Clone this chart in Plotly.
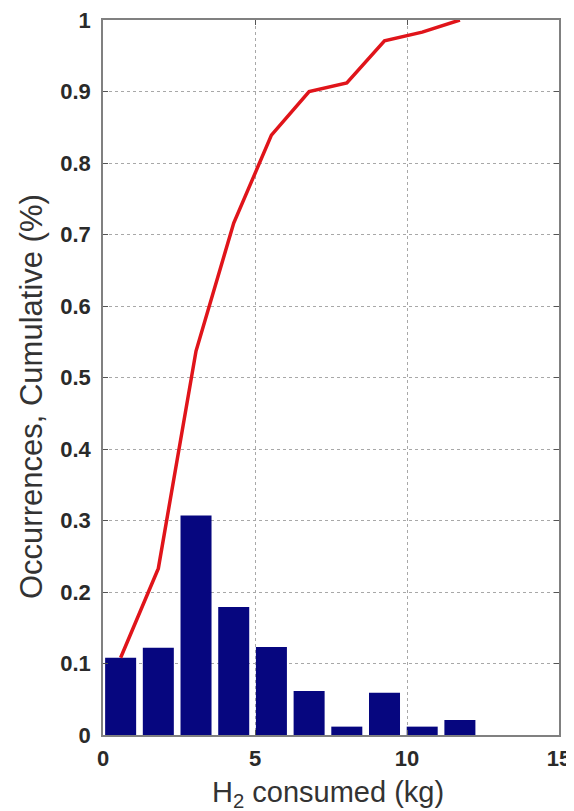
import plotly.graph_objects as go

bin_centers = [0.58, 1.82, 3.06, 4.30, 5.54, 6.78, 8.02, 9.26, 10.50, 11.74]
occurrences = [0.108, 0.122, 0.307, 0.179, 0.123, 0.0615, 0.0117, 0.059, 0.0117, 0.021]
cumulative = [0.108, 0.233, 0.537, 0.716, 0.839, 0.900, 0.912, 0.971, 0.983, 1.0]

x_ticks = [0, 5, 10, 15]
y_ticks = [0, 0.1, 0.2, 0.3, 0.4, 0.5, 0.6, 0.7, 0.8, 0.9, 1]

FONT = "Liberation Sans, Arial, sans-serif"

# page body has an 8px margin: figure is sized to fill the remaining window
W, H = 566, 803
L, T, R, B = 95, 12, 15, 76
PW, PH = W - L - R, H - T - B

fig = go.Figure()
fig.add_trace(go.Bar(x=bin_centers, y=occurrences, width=1.02,
                     marker=dict(color="#06067f", line=dict(width=0)), showlegend=False))
fig.add_trace(go.Scatter(x=bin_centers, y=cumulative, mode="lines",
                         line=dict(color="#e0141a", width=3.5), showlegend=False))

axis_common = dict(showline=True, linecolor="#808080", linewidth=1.5, mirror="ticks",
                   ticks="inside", ticklen=5, tickcolor="#555555",
                   showgrid=True, gridcolor="#a8a8a8", griddash="dot", gridwidth=1,
                   zeroline=False, automargin=False, ticklabeloverflow="allow",
                   tickfont=dict(family=FONT, size=22, color="#2a2a2a", weight="bold"))

fig.update_layout(
    width=W, height=H,
    paper_bgcolor="white", plot_bgcolor="white",
    margin=dict(l=L, r=R, t=T, b=B),
    xaxis=dict(range=[0, 15], tickvals=x_ticks, ticklabelstandoff=3, **axis_common),
    yaxis=dict(range=[0, 1], tickvals=y_ticks, ticklabelstandoff=6, **axis_common),
    annotations=[
        dict(text="H<sub>2</sub> consumed (kg)", xref="paper", yref="paper",
             x=(320 - L) / PW, y=(T + PH - 786) / PH, xanchor="center", yanchor="middle",
             showarrow=False, font=dict(family=FONT, size=29, color="#333333")),
        dict(text="Occurrences, Cumulative (%)", xref="paper", yref="paper",
             x=(23 - L) / PW, y=(T + PH - 389) / PH, xanchor="center", yanchor="middle",
             textangle=-90, showarrow=False, font=dict(family=FONT, size=31, color="#333333")),
    ],
)

fig.write_html("out.html")
